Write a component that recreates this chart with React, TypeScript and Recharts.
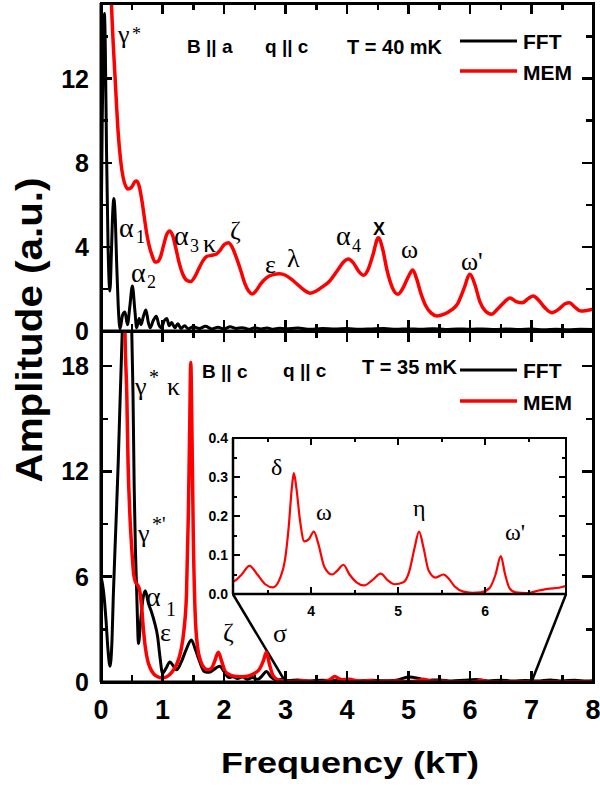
import { LineChart, Line, XAxis, YAxis, ReferenceLine } from 'recharts'

// top panel: B || a, T = 40 mK
const fftTopF = [0, 0.02, 0.04, 0.055, 0.07, 0.09, 0.115, 0.145, 0.17, 0.19, 0.21, 0.23, 0.255, 0.28, 0.31, 0.35, 0.39, 0.43, 0.47, 0.51, 0.55, 0.58, 0.62, 0.65, 0.69, 0.73, 0.77, 0.8, 0.85, 0.9, 0.94, 0.98, 1.03, 1.07, 1.11, 1.15, 1.2, 1.25, 1.3, 1.36, 1.42, 1.5, 1.6, 1.7, 1.8, 1.9, 2.0, 2.1, 2.2, 2.3, 2.4, 2.5, 2.6, 2.7, 2.8, 2.9, 3.0, 3.2, 3.4, 3.6, 3.8, 4.0, 4.2, 4.4, 4.6, 4.8, 5.0, 5.2, 5.4, 5.6, 5.8, 6.0, 6.2, 6.4, 6.6, 6.8, 7.0, 7.2, 7.4, 7.6, 7.8, 8.0]
const fftTopA = [4, 10, 14, 15.1, 13.5, 8.5, 4, 1.9, 3.8, 5.6, 6.3, 5.5, 3.2, 1.2, 0.1, 0.75, 0.9, 0.3, 1.2, 2.14, 1.0, 0.15, 0.6, 0.3, 0.7, 1.0, 0.4, 0.15, 0.5, 0.7, 0.3, 0.15, 0.5, 0.6, 0.25, 0.4, 0.15, 0.35, 0.12, 0.25, 0.1, 0.2, 0.12, 0.22, 0.1, 0.18, 0.1, 0.2, 0.12, 0.16, 0.08, 0.15, 0.1, 0.14, 0.08, 0.13, 0.1, 0.14, 0.08, 0.12, 0.1, 0.12, 0.08, 0.1, 0.12, 0.08, 0.1, 0.08, 0.11, 0.07, 0.1, 0.08, 0.1, 0.07, 0.09, 0.07, 0.09, 0.06, 0.08, 0.06, 0.08, 0.07]

const memTopF = [0.13, 0.17, 0.2, 0.23, 0.28, 0.32, 0.36, 0.4, 0.44, 0.5, 0.55, 0.58, 0.62, 0.66, 0.7, 0.74, 0.78, 0.83, 0.88, 0.92, 0.97, 1.02, 1.07, 1.12, 1.17, 1.22, 1.27, 1.33, 1.4, 1.46, 1.52, 1.58, 1.65, 1.72, 1.8, 1.87, 1.94, 2.0, 2.07, 2.13, 2.2, 2.27, 2.34, 2.4, 2.46, 2.53, 2.6, 2.7, 2.8, 2.9, 3.0, 3.1, 3.2, 3.3, 3.4, 3.5, 3.6, 3.72, 3.85, 3.95, 4.02, 4.1, 4.2, 4.27, 4.34, 4.42, 4.51, 4.58, 4.65, 4.74, 4.83, 4.92, 5.0, 5.07, 5.13, 5.2, 5.28, 5.37, 5.46, 5.58, 5.7, 5.8, 5.9, 6.0, 6.08, 6.16, 6.25, 6.35, 6.45, 6.55, 6.65, 6.75, 6.85, 6.95, 7.03, 7.12, 7.22, 7.33, 7.45, 7.55, 7.62, 7.7, 7.8, 7.9, 8.0]
const memTopA = [20, 15.6, 13.6, 12, 9.4, 8.1, 7.3, 6.9, 6.75, 6.85, 7.1, 7.14, 6.9, 6.3, 5.5, 4.7, 4.1, 3.6, 3.28, 3.3, 3.55, 4.1, 4.6, 4.76, 4.5, 3.9, 3.25, 2.7, 2.4, 2.35, 2.55, 2.9, 3.3, 3.55, 3.6, 3.65, 3.85, 4.1, 4.2, 4.0, 3.5, 2.9, 2.25, 1.9, 1.76, 1.95, 2.25, 2.55, 2.68, 2.72, 2.65, 2.45, 2.2, 1.95, 1.8, 1.9, 2.1, 2.38, 2.9, 3.3, 3.42, 3.25, 2.8, 2.65, 2.9, 3.6, 4.44, 3.9, 2.9, 2.05, 1.75, 2.1, 2.6, 2.9, 2.5, 1.8, 1.2, 0.85, 0.71, 0.8, 1.0, 1.3, 2.0, 2.7, 2.2, 1.4, 0.95, 0.8, 1.05, 1.35, 1.57, 1.4, 1.34, 1.55, 1.67, 1.45, 1.1, 0.87, 1.05, 1.3, 1.34, 1.15, 0.95, 0.98, 1.04]

// bottom panel: B || c, T = 35 mK
const fftBotF = [0, 0.04, 0.08, 0.11, 0.146, 0.18, 0.2, 0.24, 0.28, 0.31, 0.33, 0.36, 0.41, 0.46, 0.5, 0.52, 0.54, 0.56, 0.58, 0.61, 0.64, 0.68, 0.72, 0.77, 0.82, 0.87, 0.92, 0.96, 1.0, 1.06, 1.12, 1.18, 1.23, 1.3, 1.38, 1.47, 1.53, 1.6, 1.68, 1.76, 1.85, 1.93, 2.0, 2.08, 2.15, 2.22, 2.3, 2.38, 2.46, 2.55, 2.62, 2.69, 2.76, 2.85, 2.95, 3.05, 3.2, 3.4, 3.6, 3.8, 4.0, 4.2, 4.4, 4.6, 4.8, 5.0, 5.15, 5.3, 5.5, 5.7, 5.9, 6.1, 6.3, 6.5, 6.7, 6.9, 7.1, 7.3, 7.5, 7.7, 7.9, 8.0]
const fftBotA = [6.0, 5.2, 3.6, 2.0, 0.9, 2.5, 4.9, 8.7, 12.5, 16, 18.2, 21.5, 24.5, 23, 20, 16.5, 11, 7.5, 5.2, 2.2, 3.3, 4.7, 5.2, 4.5, 4.0, 3.4, 2.6, 1.4, 0.5, 0.8, 1.14, 0.9, 0.7, 1.1, 1.8, 2.4, 1.9, 1.2, 0.6, 0.55, 0.75, 0.9, 0.6, 0.25, 0.3, 0.2, 0.3, 0.15, 0.25, 0.15, 0.35, 0.6, 0.3, 0.12, 0.15, 0.08, 0.12, 0.06, 0.1, 0.08, 0.12, 0.06, 0.1, 0.07, 0.1, 0.28, 0.22, 0.1, 0.12, 0.06, 0.1, 0.14, 0.06, 0.1, 0.06, 0.09, 0.06, 0.12, 0.06, 0.1, 0.05, 0.07]

const memBotF = [0.36, 0.39, 0.42, 0.44, 0.47, 0.5, 0.53, 0.56, 0.6, 0.63, 0.66, 0.69, 0.72, 0.76, 0.8, 0.86, 0.92, 0.99, 1.07, 1.15, 1.23, 1.3, 1.35, 1.39, 1.42, 1.44, 1.46, 1.48, 1.5, 1.53, 1.57, 1.62, 1.68, 1.74, 1.8, 1.85, 1.91, 1.96, 2.02, 2.1, 2.2, 2.3, 2.4, 2.5, 2.58, 2.64, 2.69, 2.74, 2.8, 2.88, 2.96, 3.05, 3.1, 3.2, 3.29, 3.38, 3.47, 3.56, 3.64, 3.7, 3.74, 3.78, 3.8, 3.83, 3.87, 3.92, 3.97, 4.03, 4.08, 4.15, 4.24, 4.3, 4.37, 4.44, 4.52, 4.61, 4.7, 4.8, 4.88, 4.96, 5.06, 5.13, 5.19, 5.24, 5.29, 5.35, 5.43, 5.52, 5.58, 5.65, 5.75, 5.85, 5.95, 6.05, 6.12, 6.18, 6.23, 6.28, 6.35, 6.48, 6.6, 6.72, 6.85, 6.93, 7.2, 7.6, 8.0]
const memBotA = [30, 20, 16.3, 12.5, 9.5, 7.6, 6.2, 5.7, 5.5, 5.2, 4.3, 3.0, 2.0, 1.2, 0.8, 0.45, 0.3, 0.23, 0.3, 0.55, 1.0, 1.8, 3.0, 5.0, 9.5, 14, 18.2, 14, 8.5, 4.0, 2.0, 1.2, 0.8, 0.7, 0.8, 1.2, 1.7, 1.2, 0.6, 0.4, 0.32, 0.3, 0.35, 0.5, 0.75, 1.2, 1.7, 1.0, 0.35, 0.12, 0.06, 0.035, 0.032, 0.05, 0.072, 0.05, 0.025, 0.017, 0.04, 0.09, 0.17, 0.28, 0.31, 0.27, 0.19, 0.135, 0.14, 0.16, 0.13, 0.07, 0.05, 0.06, 0.075, 0.05, 0.03, 0.022, 0.035, 0.052, 0.035, 0.025, 0.03, 0.06, 0.12, 0.16, 0.12, 0.06, 0.042, 0.05, 0.04, 0.019, 0.006, 0.003, 0.004, 0.015, 0.05, 0.097, 0.05, 0.015, 0.004, 0.002, 0.008, 0.013, 0.016, 0.02, 0.02, 0.02, 0.02]

const xTicks = [0, 0.5, 1, 1.5, 2, 2.5, 3, 3.5, 4, 4.5, 5, 5.5, 6, 6.5, 7, 7.5, 8]
const xMajors = [0, 1, 2, 3, 4, 5, 6, 7, 8]
const yTopTicks = [0, 2, 4, 6, 8, 10, 12, 14]
const yTopMajors = [0, 4, 8, 12]
const yBotTicks = [0, 3, 6, 9, 12, 15, 18]
const yBotMajors = [0, 6, 12, 18]
const insetXTicks = [3.5, 4, 4.5, 5, 5.5, 6, 6.5]
const insetXMajors = [4, 5, 6]
const insetYTicks = [0, 0.05, 0.1, 0.15, 0.2, 0.25, 0.3, 0.35, 0.4]
const insetYMajors = [0, 0.1, 0.2, 0.3, 0.4]

const rows = (f: number[], a: number[]) => f.map((x, i) => ({ f: x, a: a[i] }))

const SANS = "'Liberation Sans', Arial, sans-serif"
const SERIF = "'Liberation Serif', 'DejaVu Serif', serif"

const isMajor = (majors: number[], v: number) => majors.some(m => Math.abs(m - v) < 1e-9)

// tick labels come from recharts' own axes
const makeLabel = (side: 'left' | 'bottom', majors: number[], fontSize: number, gap: number, fmt?: (v: number) => string) =>
  (props: any) => {
    const { x, y, payload } = props
    const v = payload.value
    if (!isMajor(majors, v)) return <g />
    const label = fmt ? fmt(v) : String(v)
    return side === 'left'
      ? <text x={x - gap} y={y} textAnchor="end" dominantBaseline="central"
          fontFamily={SANS} fontWeight="bold" fontSize={fontSize} fill="#000">{label}</text>
      : <text x={x} y={y + gap} textAnchor="middle" dominantBaseline="central"
          fontFamily={SANS} fontWeight="bold" fontSize={fontSize} fill="#000">{label}</text>
  }

// frame box of every panel in page pixels (must match the chart margins below)
type Box = { l: number; r: number; t: number; b: number; xd: number[]; yd: number[] }
const topBox: Box = { l: 101, r: 593, t: 3, b: 331, xd: [0, 8], yd: [0, 15.6] }
const botBox: Box = { l: 101, r: 593, t: 331, b: 682, xd: [0, 8], yd: [0, 20] }
const insBox: Box = { l: 233, r: 566, t: 438, b: 594, xd: [3.1, 6.93], yd: [0, 0.4] }

// closed frame with inward ticks on all four sides, as plain positioned divs
function Frame({ box, xt, xm, yt, ym, big, small, sw, fw }: any) {
  const bx: Box = box
  const px = (v: number) => bx.l + (v - bx.xd[0]) / (bx.xd[1] - bx.xd[0]) * (bx.r - bx.l)
  const py = (v: number) => bx.b - (v - bx.yd[0]) / (bx.yd[1] - bx.yd[0]) * (bx.b - bx.t)
  const bars: { x: number; y: number; w: number; h: number }[] = []
  xt.forEach((v: number) => {
    const h = isMajor(xm, v) ? big : small
    const x = px(v) - sw / 2
    bars.push({ x, y: bx.b - h, w: sw, h }, { x, y: bx.t, w: sw, h })
  })
  yt.forEach((v: number) => {
    const w = isMajor(ym, v) ? big : small
    const y = py(v) - sw / 2
    bars.push({ x: bx.l, y, w, h: sw }, { x: bx.r - w, y, w, h: sw })
  })
  return (
    <>
      <div style={{
        position: 'absolute', left: bx.l - fw / 2, top: bx.t - fw / 2,
        width: bx.r - bx.l + fw, height: bx.b - bx.t + fw,
        border: `${fw}px solid #000`, boxSizing: 'border-box'
      }} />
      {bars.map((b, i) => (
        <div key={i} style={{ position: 'absolute', left: b.x, top: b.y, width: b.w, height: b.h, background: '#000' }} />
      ))}
    </>
  )
}

const frame = { stroke: '#000', strokeWidth: 3 }

// plot area of each panel spans x 101..593
function Panel({ fft, mem, yMax, yTicks, yMajors, height, topH, botH, showX, children }: any) {
  return (
    <LineChart width={600} height={height} margin={{ top: topH, right: 7, bottom: 0, left: 61 }}>
      <XAxis xAxisId="b" type="number" dataKey="f" domain={[0, 8]} ticks={xTicks} interval={0}
        allowDataOverflow height={botH} tickSize={0} tickMargin={0} axisLine={frame} tickLine={false}
        tick={showX ? makeLabel('bottom', xMajors, 27, 28) : false} />
      <YAxis yAxisId="l" type="number" domain={[0, yMax]} ticks={yTicks} interval={0}
        allowDataOverflow width={40} tickSize={0} tickMargin={0} axisLine={frame} tickLine={false}
        tick={makeLabel('left', yMajors, 25, 12)} />
      {children}
      <Line xAxisId="b" yAxisId="l" data={fft} dataKey="a" type="monotone" stroke="#000" strokeWidth={3}
        dot={false} isAnimationActive={false} />
      <Line xAxisId="b" yAxisId="l" data={mem} dataKey="a" type="monotone" stroke="#ff0000" strokeWidth={3.5}
        dot={false} isAnimationActive={false} />
    </LineChart>
  )
}

// corners of the inset box, in bottom-panel data units
const insetCornerY = 5.0
const insetLeftX = 2.146
const insetRightX = 7.561

function Txt({ x, y, s = 24, serif = false, bold = false, children }: any) {
  return (
    <text x={x} y={y} fontSize={s} fontFamily={serif ? SERIF : SANS}
      fontWeight={bold ? 'bold' : 'normal'} fill="#000">{children}</text>
  )
}

const insetFrame = { stroke: '#000', strokeWidth: 2.5 }

export default function App() {
  const memBot = rows(memBotF, memBotA)
  return (
    <div style={{ position: 'absolute', left: 0, top: 0, width: 600, height: 787, background: '#fff' }}>
      <div style={{ position: 'absolute', left: 0, top: 0 }}>
        <Panel fft={rows(fftTopF, fftTopA)} mem={rows(memTopF, memTopA)} yMax={15.6}
          yTicks={yTopTicks} yMajors={yTopMajors} height={345} topH={3} botH={14} showX={false} />
      </div>
      <div style={{ position: 'absolute', left: 0, top: 329 }}>
        <Panel fft={rows(fftBotF, fftBotA)} mem={memBot} yMax={20}
          yTicks={yBotTicks} yMajors={yBotMajors} height={395} topH={2} botH={42} showX={true}>
          <ReferenceLine xAxisId="b" yAxisId="l" segment={[{ x: insetLeftX, y: insetCornerY }, { x: 3.0, y: 0 }]}
            stroke="#000" strokeWidth={2.5} ifOverflow="visible" />
          <ReferenceLine xAxisId="b" yAxisId="l" segment={[{ x: insetRightX, y: insetCornerY }, { x: 7.0, y: 0 }]}
            stroke="#000" strokeWidth={2.5} ifOverflow="visible" />
        </Panel>
      </div>

      {/* inset */}
      <div style={{ position: 'absolute', left: 233, top: 438, width: 333, height: 156, background: '#fff' }} />
      <div style={{ position: 'absolute', left: 183, top: 428 }}>
        <LineChart width={393} height={196} margin={{ top: 10, right: 10, bottom: 0, left: 10 }}>
          <XAxis xAxisId="b" type="number" dataKey="f" domain={[3.1, 6.93]} ticks={insetXTicks} interval={0}
            allowDataOverflow height={30} tickSize={0} tickMargin={0} axisLine={insetFrame} tickLine={false}
            tick={makeLabel('bottom', insetXMajors, 14, 17)} />
          <YAxis yAxisId="l" type="number" domain={[0, 0.4]} ticks={insetYTicks} interval={0}
            allowDataOverflow width={40} tickSize={0} tickMargin={0} axisLine={insetFrame} tickLine={false}
            tick={makeLabel('left', insetYMajors, 14, 5, v => v.toFixed(1))} />
          <Line xAxisId="b" yAxisId="l" data={memBot} dataKey="a" type="monotone" stroke="#ff0000" strokeWidth={2.2}
            dot={false} isAnimationActive={false} />
        </LineChart>
      </div>

      {/* frames and inward ticks */}
      <Frame box={topBox} xt={xTicks} xm={xMajors} yt={yTopTicks} ym={yTopMajors} big={11} small={7} sw={2.5} fw={3} />
      <Frame box={botBox} xt={xTicks} xm={xMajors} yt={yBotTicks} ym={yBotMajors} big={11} small={7} sw={2.5} fw={3} />
      <Frame box={insBox} xt={insetXTicks} xm={insetXMajors} yt={insetYTicks} ym={insetYMajors} big={7} small={4} sw={2} fw={2.5} />

      {/* annotations */}
      <svg width={600} height={787} style={{ position: 'absolute', left: 0, top: 0, pointerEvents: 'none' }}>
        <text x={350} y={773} textAnchor="middle" fontFamily={SANS} fontWeight="bold" fontSize={30}
          textLength={258} lengthAdjust="spacingAndGlyphs">Frequency (kT)</text>
        <text x={42} y={330} transform="rotate(-90 42 330)" textAnchor="middle" fontFamily={SANS} fontWeight="bold"
          fontSize={37} textLength={305} lengthAdjust="spacingAndGlyphs">Amplitude (a.u.)</text>

        {/* top panel */}
        <Txt x={187} y={53} s={19} bold>B || a</Txt>
        <Txt x={265} y={53} s={19} bold>q || c</Txt>
        <Txt x={347} y={54} s={20} bold>T = 40 mK</Txt>
        <line x1={460} y1={41} x2={517} y2={41} stroke="#000" strokeWidth={3} />
        <Txt x={523} y={49} s={21} bold>FFT</Txt>
        <line x1={460} y1={71} x2={517} y2={71} stroke="#ff0000" strokeWidth={3.5} />
        <Txt x={523} y={80} s={21} bold>MEM</Txt>

        <Txt x={118} y={43} s={26} serif>γ</Txt>
        <Txt x={132} y={40} s={18} serif>*</Txt>
        <Txt x={119} y={237} s={28} serif>α</Txt>
        <Txt x={136} y={243} s={18} serif>1</Txt>
        <Txt x={131} y={282} s={28} serif>α</Txt>
        <Txt x={147} y={288} s={18} serif>2</Txt>
        <Txt x={174} y={245} s={28} serif>α</Txt>
        <Txt x={190} y={252} s={18} serif>3</Txt>
        <Txt x={203} y={252} s={26} serif>κ</Txt>
        <Txt x={230} y={239} s={26} serif>ζ</Txt>
        <Txt x={265} y={273} s={26} serif>ε</Txt>
        <Txt x={287} y={267} s={26} serif>λ</Txt>
        <Txt x={336} y={245} s={28} serif>α</Txt>
        <Txt x={352} y={252} s={18} serif>4</Txt>
        <Txt x={373} y={235} s={18} bold>X</Txt>
        <Txt x={401} y={258} s={26} serif>ω</Txt>
        <Txt x={461} y={270} s={26} serif>ω'</Txt>

        {/* bottom panel */}
        <Txt x={202} y={378} s={19} bold>B || c</Txt>
        <Txt x={283} y={377} s={19} bold>q || c</Txt>
        <Txt x={362} y={374} s={20} bold>T = 35 mK</Txt>
        <line x1={460} y1={370} x2={517} y2={370} stroke="#000" strokeWidth={3} />
        <Txt x={523} y={378} s={21} bold>FFT</Txt>
        <line x1={460} y1={401} x2={517} y2={401} stroke="#ff0000" strokeWidth={3.5} />
        <Txt x={523} y={410} s={21} bold>MEM</Txt>

        <Txt x={135} y={395} s={26} serif>γ</Txt>
        <Txt x={149} y={384} s={20} serif>*</Txt>
        <Txt x={167} y={395} s={26} serif>κ</Txt>
        <Txt x={138} y={542} s={26} serif>γ</Txt>
        <Txt x={152} y={531} s={20} serif>*'</Txt>
        <Txt x={146} y={606} s={28} serif>α</Txt>
        <Txt x={166} y={616} s={20} serif>1</Txt>
        <Txt x={160} y={641} s={26} serif>ε</Txt>
        <Txt x={223} y={641} s={26} serif>ζ</Txt>
        <Txt x={273} y={642} s={26} serif>σ</Txt>

        {/* inset labels */}
        <Txt x={271} y={475} s={24} serif>δ</Txt>
        <Txt x={316} y={520} s={24} serif>ω</Txt>
        <Txt x={413} y={516} s={24} serif>η</Txt>
        <Txt x={505} y={540} s={24} serif>ω'</Txt>
      </svg>
    </div>
  )
}
